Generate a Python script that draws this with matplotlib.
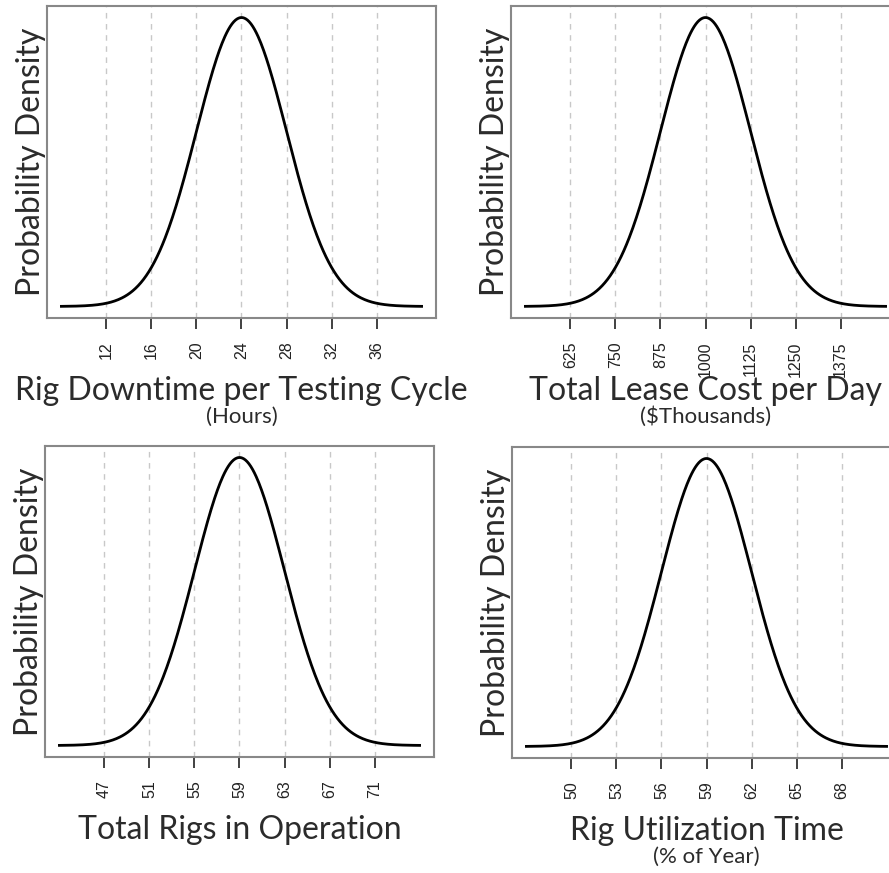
import numpy as np
import matplotlib
matplotlib.use("Agg")
import matplotlib.pyplot as plt

# panel data: normal distributions
titles = ["Rig Downtime per Testing Cycle", "Total Lease Cost per Day",
          "Total Rigs in Operation", "Rig Utilization Time"]
subtitles = ["(Hours)", "($Thousands)", "", "(% of Year)"]
means = [24, 1000, 59, 59]
sds = [4, 125, 4, 3]
ticks = [[12, 16, 20, 24, 28, 32, 36],
         [625, 750, 875, 1000, 1125, 1250, 1375],
         [47, 51, 55, 59, 63, 67, 71],
         [50, 53, 56, 59, 62, 65, 68]]

W, H = 889, 873
# axes boxes in pixels: left, top, right, bottom
boxes = [(47, 6, 436, 318), (511, 6, 900, 318),
         (45, 446, 434, 757), (512, 447, 901, 758)]

label_font = ["Lato", "DejaVu Sans"]
tick_font = ["Liberation Sans", "DejaVu Sans"]
txt_color = "#2b2b2b"

fig = plt.figure(figsize=(W / 100, H / 100), dpi=100)

for i in range(4):
    l, t, r, b = boxes[i]
    ax = fig.add_axes([l / W, 1 - b / H, (r - l) / W, (b - t) / H])
    m, s = means[i], sds[i]
    x = np.linspace(m - 4 * s, m + 4 * s, 400)
    y = np.exp(-0.5 * ((x - m) / s) ** 2) / (s * np.sqrt(2 * np.pi))
    ax.plot(x, y, color="black", lw=2)
    for tk in ticks[i]:
        ax.axvline(tk, color="#c8c8c8", lw=1, ls=(0, (4, 4)), zorder=0)
    pad = 0.04 * 8 * s
    ax.set_xlim(m - 4 * s - pad, m + 4 * s + pad)
    ymax = y.max()
    ax.set_ylim(-0.04 * ymax, ymax * 1.04)
    ax.set_yticks([])
    ax.set_xticks(ticks[i])
    ax.set_xticklabels([str(v) for v in ticks[i]], rotation=90,
                       family=tick_font, fontsize=11.5, color="#222222")
    ax.tick_params(axis="x", length=8, width=1.3, color="#333333", pad=9)
    for sp in ax.spines.values():
        sp.set_color("#888888")
        sp.set_linewidth(1.5)
    ax.annotate("Probability Density", xy=(0, 0.5), xycoords="axes fraction",
                xytext=(-1, 0), textcoords="offset pixels", rotation=90,
                ha="right", va="center", family=label_font,
                fontsize=23, color=txt_color)
    ax.annotate(titles[i], xy=(0.5, 0), xycoords="axes fraction",
                xytext=(0, -82), textcoords="offset pixels",
                ha="center", va="baseline", family=label_font,
                fontsize=23, color=txt_color)
    if subtitles[i]:
        ax.annotate(subtitles[i], xy=(0.5, 0), xycoords="axes fraction",
                    xytext=(0, -105), textcoords="offset pixels",
                    ha="center", va="baseline", family=label_font,
                    fontsize=16, color=txt_color)

fig.savefig("out.png", dpi=100)
